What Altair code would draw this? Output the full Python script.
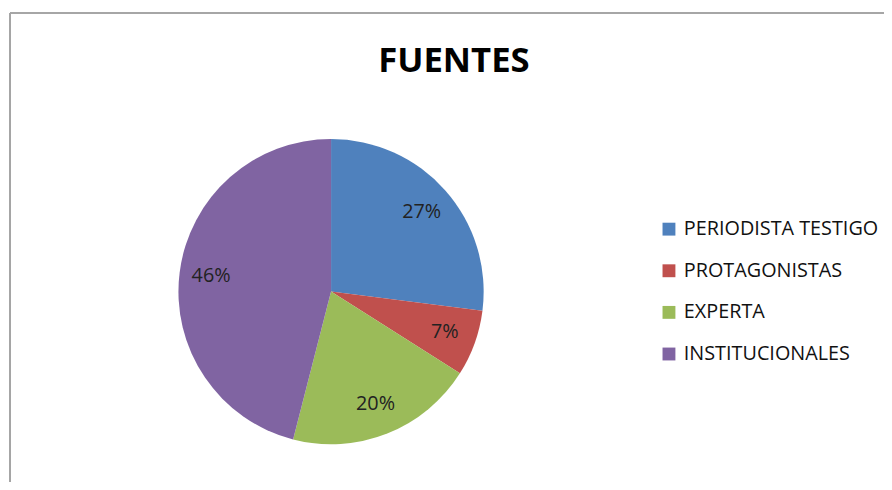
import altair as alt
import pandas as pd

categories = ["PERIODISTA TESTIGO", "PROTAGONISTAS", "EXPERTA", "INSTITUCIONALES"]
values = [27, 7, 20, 46]
colors = ["#4F81BD", "#C0504D", "#9BBB59", "#8064A2"]
title_text = ["FUENTES"]

df = pd.DataFrame({
    "fuente": categories,
    "valor": values,
    "orden": list(range(len(categories))),
})

FONT = "Open Sans"
CX, CY, R = 326, 214, 154

base = alt.Chart(df).encode(
    theta=alt.Theta("valor:Q", stack=True),
    order=alt.Order("orden:Q"),
)

pie = base.mark_arc(outerRadius=R).encode(
    x=alt.value(CX),
    y=alt.value(CY),
    color=alt.Color(
        "fuente:N",
        scale=alt.Scale(domain=categories, range=colors),
        sort=categories,
        legend=alt.Legend(
            title=None,
            orient="none",
            legendX=657,
            legendY=141,
            symbolType="square",
            symbolSize=169,
            symbolStrokeWidth=0,
            labelFont=FONT,
            labelFontSize=20,
            labelColor="#111111",
            labelOffset=5,
            rowPadding=22,
            labelLimit=300,
        ),
    ),
)

labels = base.transform_calculate(
    etiqueta="datum.valor + '%'"
).mark_text(
    radius=122, font=FONT, fontSize=20, color="#222222"
).encode(
    x=alt.value(CX),
    y=alt.value(CY),
    text="etiqueta:N",
)

title = alt.Chart(pd.DataFrame({"t": title_text})).mark_text(
    font=FONT, fontSize=35, fontWeight="bold", color="#000000",
    align="center", baseline="middle",
).encode(x=alt.value(450), y=alt.value(-19), text="t:N")

left_line = alt.Chart(df).mark_rule(color="#a6a6a6", strokeWidth=1.5).encode(
    x=alt.value(2), y=alt.value(-67), y2=alt.value(430)
)
top_line = alt.Chart(df).mark_rule(color="#a6a6a6", strokeWidth=1.5).encode(
    x=alt.value(2), x2=alt.value(900), y=alt.value(-67)
)

chart = alt.layer(left_line, top_line, pie, labels, title).properties(
    width=884,
    height=404,
    padding={"left": 0, "top": 70, "right": 0, "bottom": 0},
    autosize=alt.AutoSizeParams(type="none"),
).configure_view(stroke=None)

chart.save("out.html", embed_options={"renderer": "svg", "actions": False})
